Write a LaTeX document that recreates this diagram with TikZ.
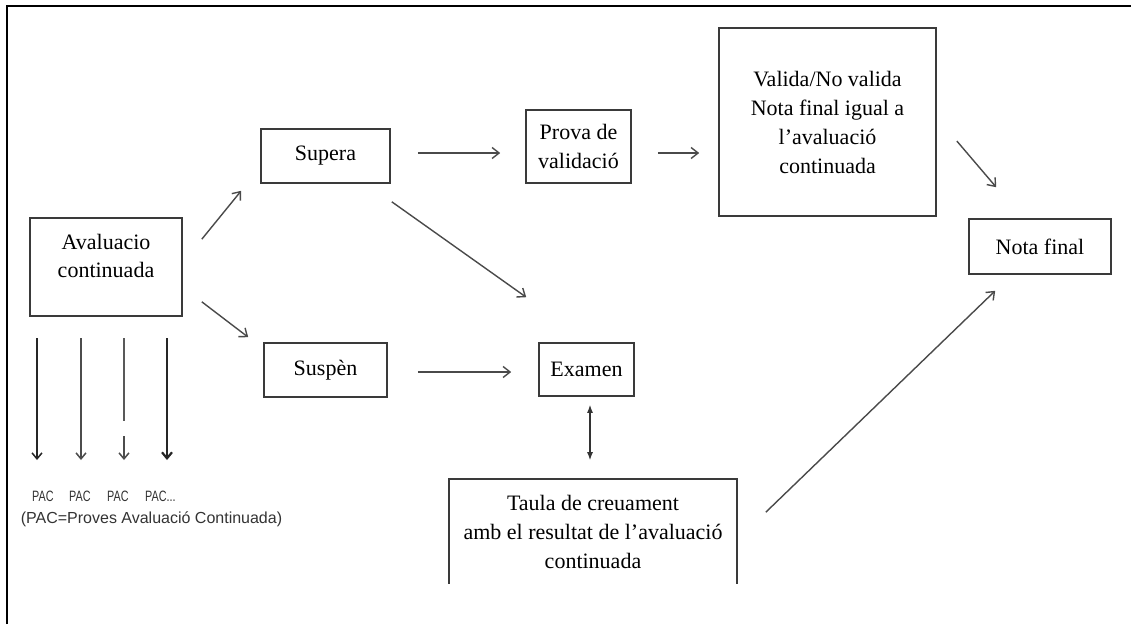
\documentclass[tikz,border=0pt]{standalone}
\usepackage{fontspec}
\setmainfont{Liberation Serif}
\newfontfamily\pacfont{Liberation Sans}
\usetikzlibrary{arrows.meta,calc}
\definecolor{boxline}{HTML}{3A3A3A}
\definecolor{arrline}{HTML}{4A4A4A}
\newcommand{\squeezed}[1]{\scalebox{0.72}[1]{#1}}
\begin{document}
\begin{tikzpicture}[x=1pt,y=-1pt,
  box/.style={draw=boxline, line width=1.6pt, align=center, inner sep=2pt,
    font=\fontsize{22}{29}\selectfont},
  arr/.style={draw=arrline, line width=1.4pt, -{Straight Barb[length=7pt,width=11pt]}},
  pacarr/.style={draw=black!85, line width=1.5pt, -{Straight Barb[length=6pt,width=10pt]}},
  dbl/.style={draw=black!80, line width=1.3pt, {Latex[length=8pt,width=6pt]}-{Latex[length=8pt,width=6pt]}},
  pac/.style={font=\pacfont\fontsize{15}{18}\selectfont, text=black!80, inner sep=0pt, anchor=west},
  pacnote/.style={font=\pacfont\fontsize{16}{19}\selectfont, text=black!80, inner sep=0pt}
]
\useasboundingbox (0,0) rectangle (1131,624);
% outer frame (top and left)
\draw[line width=2.5pt] (7,624) -- (7,6) -- (1131,6);

% boxes
\node[box, minimum width=152pt, minimum height=98pt] (aval) at (106,267) {};
\node[align=center, inner sep=0pt, font=\fontsize{22}{28}\selectfont] (avalt) at (106,256) {Avaluacio\\continuada};
\node[box, minimum width=129pt, minimum height=54pt] (supera) at (325.5,156) {Supera};
\node[box, minimum width=105pt, minimum height=73pt] (prova) at (578.5,146.5) {Prova de\\validació};
\node[box, minimum width=217pt, minimum height=188pt] (valida) at (827.5,122) {Valida/No valida\\Nota final igual a\\l'avaluació\\continuada};
\node[box, minimum width=142pt, minimum height=55pt] (notaf) at (1040,246.5) {Nota final};
\node[box, minimum width=123pt, minimum height=54pt] (suspen) at (325.5,370) {Suspèn};
\node[box, minimum width=95pt, minimum height=53pt] (examen) at (586.5,369.5) {Examen};
\node[box, draw=none, minimum width=286pt, minimum height=103pt] (taula) at (593,531.5) {Taula de creuament\\amb el resultat de l'avaluació\\continuada};
\draw[boxline, line width=1.6pt] (taula.south west) -- (taula.north west) -- (taula.north east) -- (taula.south east);

% connectors
\draw[arr] ($(aval.north east)+(19,22)$) -- ($(supera.south west)+(-19,7)$);
\draw[arr] ($(aval.south east)+(19,-15)$) -- ($(suspen.north west)+(-15,-5)$);
\draw[arr] ($(supera.east)+(27,-3)$) -- ($(prova.west)+(-25,6.5)$);
\draw[arr] ($(prova.east)+(26,6.5)$) -- ($(valida.west)+(-19,31)$);
\draw[arr] ($(valida.east)+(20,19)$) -- ($(notaf.north west)+(28,-31)$);
\draw[arr] ($(supera.south east)+(1,18)$) -- ($(examen.north west)+(-12,-45)$);
\draw[arr] ($(suspen.east)+(30,2)$) -- ($(examen.west)+(-27,2.5)$);
\draw[dbl] ($(examen.south)+(3.5,8)$) -- ($(taula.north)+(-3,-19)$);
\draw[arr] ($(taula.north east)+(29,33)$) -- ($(notaf.south west)+(27,16)$);

% PAC labels
\node[pac] (p1) at (32,496) {\squeezed{PAC}};
\node[pac] (p2) at (69,496) {\squeezed{PAC}};
\node[pac] (p3) at (107,496) {\squeezed{PAC}};
\node[pac] (p4) at (145,496) {\squeezed{PAC...}};
\node[pacnote] (pacnote) at (151.5,519) {(PAC=Proves Avaluació Continuada)};

% PAC arrows
\coordinate (s1) at (37,338); \coordinate (e1) at (37,460);
\coordinate (s2) at (81,338); \coordinate (e2) at (81,460);
\coordinate (s3) at (124,338); \coordinate (m3a) at (124,421); \coordinate (m3b) at (124,436); \coordinate (e3) at (124,460);
\coordinate (s4) at (167,338); \coordinate (e4) at (167,460);
\draw[pacarr] (s1) -- (e1);
\draw[pacarr, draw=black!70] (s2) -- (e2);
\draw[black!65, line width=1.3pt] (s3) -- (m3a);
\draw[pacarr, draw=black!70] (m3b) -- (e3);
\draw[pacarr, line width=2.2pt] (s4) -- (e4);
\end{tikzpicture}
\end{document}
